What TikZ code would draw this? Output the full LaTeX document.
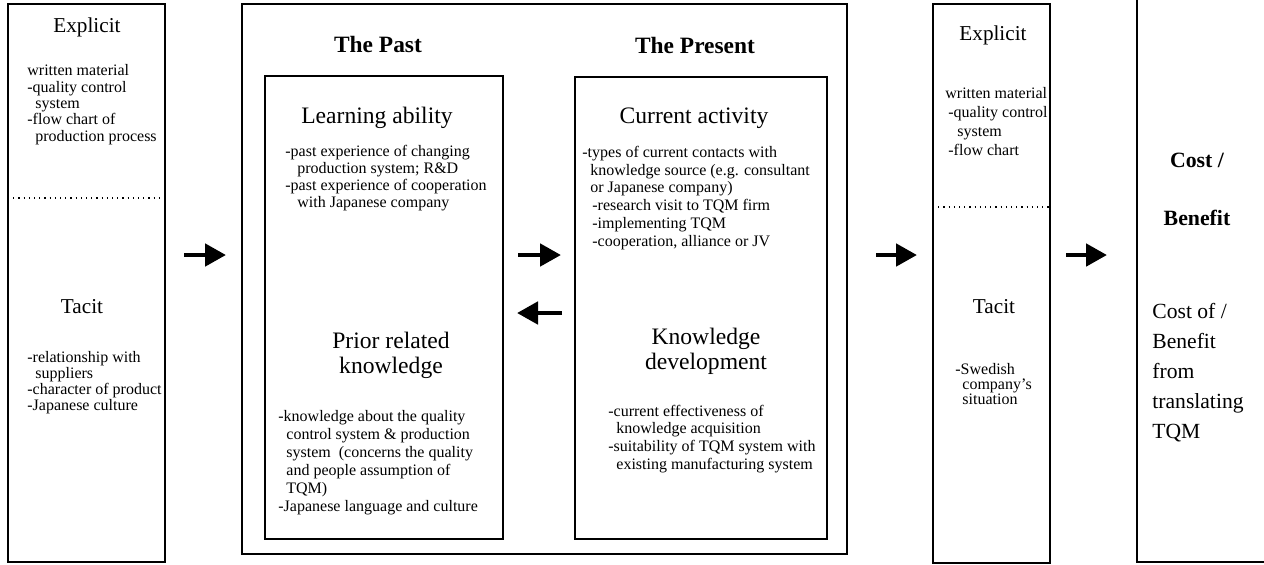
\documentclass[tikz,border=0pt]{standalone}
\usepackage{fontspec}
\setmainfont{Liberation Serif}
\usetikzlibrary{arrows.meta,fit}

\tikzset{
  box/.style={draw=black, line width=1pt, inner sep=0pt},
  divider/.style={line width=0.6pt, dotted},
  flow/.style={line width=2.4pt, -{Triangle[length=10.5pt,width=11pt]}},
  kind/.style={font=\fontsize{10.6}{11}\selectfont, anchor=base},
  period/.style={font=\bfseries\fontsize{11.7}{12}\selectfont, anchor=base},
  topic/.style={font=\fontsize{11.8}{12.5}\selectfont, align=center, anchor=base},
  % multi-line nodes sit on the baseline of their last line
  bodytext/.style={font=\fontsize{8}{#1}\selectfont, align=left, anchor=base west, inner sep=0pt},
  bodytext/.default=8.5pt
}

\begin{document}
\begin{tikzpicture}[x=0.5pt, y=-0.5pt]
    \useasboundingbox (0,0) rectangle (1264,564);

    % boxes
    \node[box, fit={(8,4) (165,562)}] (before) {};
    \node[box, fit={(242,4) (847,554)}] (timeline) {};
    \node[box, fit={(265,76) (503,539)}] (past) {};
    \node[box, fit={(575,77) (827,539)}] (present) {};
    \node[box, fit={(933,4) (1050,563)}] (after) {};
    \node[box, fit={(1137,-12) (1290,562)}] (costbox) {};

    \draw[divider] (8,198) -- (165,198);
    \draw[divider] (933,207) -- (1050,207);

    % knowledge before
    \node[kind] (beforeexp) at (87,32) {Explicit};
    \node[bodytext=8.15pt] (beforeexptext) at (27,141) {written material\\-quality control\\\hspace*{4pt}system\\-flow chart of\\\hspace*{4pt}production process};
    \node[kind] (beforetac) at (82,313) {Tacit};
    \node[bodytext=8pt] (beforetactext) at (27,410) {-relationship with\\\hspace*{4pt}suppliers\\-character of product\\-Japanese culture};

    % past and present
    \node[period] (pasthead) at (378,52) {The Past};
    \node[period] (presenthead) at (695,53) {The Present};

    \node[topic] (learning) at (377,123) {Learning ability};
    \node[bodytext=8.35pt] (learningtext) at (285,207) {-past experience of changing\\\hspace*{6pt}production system; R\&D\\-past experience of cooperation\\\hspace*{6pt}with Japanese company};
    \node[topic] (prior) at (391,373) {Prior related\\knowledge};
    \node[bodytext=9pt] (priortext) at (278,511) {-knowledge about the quality\\\hspace*{4pt}control system \& production\\\hspace*{4pt}system\ \ (concerns the quality\\\hspace*{4pt}and people assumption of\\\hspace*{4pt}TQM)\\-Japanese language and culture};

    \node[topic] (activity) at (694,123) {Current activity};
    \node[bodytext=8.85pt] (activitytext) at (582,246) {-types of current contacts with\\\hspace*{4pt}knowledge source (e.g. consultant\\\hspace*{4pt}or Japanese company)\\\hspace*{5pt}-research visit to TQM firm\\\hspace*{5pt}-implementing TQM\\\hspace*{5pt}-cooperation, alliance or JV};
    \node[topic] (development) at (706,369) {Knowledge\\development};
    \node[bodytext=8.8pt] (developmenttext) at (608,469) {-current effectiveness of\\\hspace*{4pt}knowledge acquisition\\-suitability of TQM system with\\\hspace*{4pt}existing manufacturing system};

    % knowledge after
    \node[kind] (afterexp) at (993,40) {Explicit};
    \node[bodytext=9.4pt] (afterexptext) at (945,155) {written material\\\hspace*{1.5pt}-quality control\\\hspace*{6pt}system\\\hspace*{1.5pt}-flow chart};
    \node[kind] (aftertac) at (994,313) {Tacit};
    \node[bodytext=7.5pt] (aftertactext) at (955,404) {-Swedish\\\hspace*{3.5pt}company's\\\hspace*{3.5pt}situation};

    % cost and benefit
    \node[period, font=\bfseries\fontsize{10.9}{11}\selectfont] (costhead) at (1197,167) {Cost /};
    \node[period, font=\bfseries\fontsize{10.9}{11}\selectfont] (benefithead) at (1197,225) {Benefit};
    \node[font=\fontsize{10.8}{15}\selectfont, align=left, anchor=base west, inner sep=0pt] (costtext) at (1152,438) {Cost of /\\Benefit\\from\\translating\\TQM};

    % arrows
    \coordinate (mainrow) at (0,255);
    \coordinate (backrow) at (0,313);
    \draw[flow, shorten <=9pt, shorten >=7.5pt] (before.east |- mainrow) -- (timeline.west |- mainrow);
    \draw[flow, shorten <=7pt, shorten >=6.5pt] (past.east |- mainrow) -- (present.west |- mainrow);
    \draw[flow, shorten <=6pt, shorten >=6.5pt] (present.west |- backrow) -- (past.east |- backrow);
    \draw[flow, shorten <=14pt, shorten >=7.5pt] (timeline.east |- mainrow) -- (after.west |- mainrow);
    \draw[flow, shorten <=7.5pt, shorten >=14.5pt] (after.east |- mainrow) -- (costbox.west |- mainrow);
\end{tikzpicture}
\end{document}
